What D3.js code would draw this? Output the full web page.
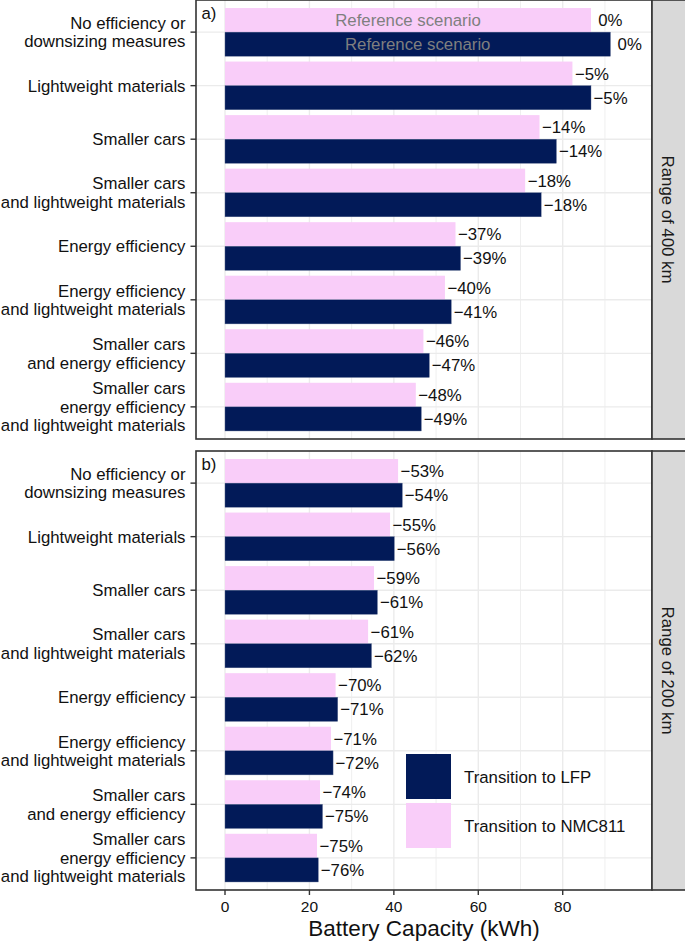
<!DOCTYPE html>
<html>
<head>
<meta charset="utf-8">
<script src="https://cdn.jsdelivr.net/npm/d3@7"></script>
<style>
  html, body { margin: 0; padding: 0; background: #fff; }
  svg { display: block; }
  text { font-family: "Liberation Sans", Arial, Helvetica, sans-serif; }
</style>
</head>
<body>
<svg id="chart" width="685" height="942"></svg>
<script>
// ---------------- data ----------------
const categories = [
  "No efficiency or\ndownsizing measures",
  "Lightweight materials",
  "Smaller cars",
  "Smaller cars\nand lightweight materials",
  "Energy efficiency",
  "Energy efficiency\nand lightweight materials",
  "Smaller cars\nand energy efficiency",
  "Smaller cars\nenergy efficiency\nand lightweight materials"
];
const seriesNames = ["Transition to LFP", "Transition to NMC811"];
const facets = ["Range of 400 km", "Range of 200 km"];
const facetTags = ["a)", "b)"];

// Battery capacity (kWh)
const lfp400 = [91.3, 86.7, 78.5, 74.9, 55.8, 53.6, 48.4, 46.5];
const nmc400 = [86.7, 82.3, 74.5, 71.1, 54.6, 52.1, 47.0, 45.2];
const lfp200 = [42.0, 40.1, 36.1, 34.7, 26.7, 25.6, 23.1, 22.1];
const nmc200 = [41.0, 39.1, 35.3, 33.9, 26.2, 25.1, 22.5, 21.8];

// percentage labels
const lfp400Pct = ["0%", "−5%", "−14%", "−18%", "−39%", "−41%", "−47%", "−49%"];
const nmc400Pct = ["0%", "−5%", "−14%", "−18%", "−37%", "−40%", "−46%", "−48%"];
const lfp200Pct = ["−54%", "−56%", "−61%", "−62%", "−71%", "−72%", "−75%", "−76%"];
const nmc200Pct = ["−53%", "−55%", "−59%", "−61%", "−70%", "−71%", "−74%", "−75%"];

const xTicks = [0, 20, 40, 60, 80];
const xMinorTicks = [10, 30, 50, 70, 90];
const xTitle = "Battery Capacity (kWh)";
const referenceLabel = "Reference scenario";

// ---------------- layout ----------------
const colors = { "Transition to LFP": "#021A58", "Transition to NMC811": "#F9CDF9" };
const panelLeft = 196, panelRight = 652;
const panels = [
  { top: 0, bottom: 439, lfp: lfp400, nmc: nmc400, lfpPct: lfp400Pct, nmcPct: nmc400Pct },
  { top: 451, bottom: 890, lfp: lfp200, nmc: nmc200, lfpPct: lfp200Pct, nmcPct: nmc200Pct }
];
const stripRight = 690;
const FS = 16.8;

const svg = d3.select("#chart");
const x = d3.scaleLinear().domain([-6.87, 101.15]).range([panelLeft, panelRight]);

panels.forEach((p, pi) => {
  const y = d3.scalePoint().domain(categories).range([p.top, p.bottom]).padding(0.6);
  const step = y.step();
  const barH = step * 0.45;
  const g = svg.append("g");

  g.append("rect").attr("x", panelLeft).attr("y", p.top)
    .attr("width", panelRight - panelLeft).attr("height", p.bottom - p.top)
    .attr("fill", "#fff");

  // grid
  g.selectAll(".vminor").data(xMinorTicks).join("line")
    .attr("x1", d => x(d)).attr("x2", d => x(d))
    .attr("y1", p.top).attr("y2", p.bottom)
    .attr("stroke", "#EBEBEB").attr("stroke-width", 0.8);
  g.selectAll(".vmajor").data(xTicks).join("line")
    .attr("x1", d => x(d)).attr("x2", d => x(d))
    .attr("y1", p.top).attr("y2", p.bottom)
    .attr("stroke", "#EBEBEB").attr("stroke-width", 1.4);
  g.selectAll(".hmajor").data(categories).join("line")
    .attr("x1", panelLeft).attr("x2", panelRight)
    .attr("y1", d => y(d)).attr("y2", d => y(d))
    .attr("stroke", "#EBEBEB").attr("stroke-width", 1.4);

  const rows = categories.map((c, i) => ({
    c, i, lfp: p.lfp[i], nmc: p.nmc[i], lfpPct: p.lfpPct[i], nmcPct: p.nmcPct[i]
  }));
  g.selectAll(".nmc").data(rows).join("rect")
    .attr("x", x(0)).attr("y", d => y(d.c) - barH)
    .attr("width", d => x(d.nmc) - x(0)).attr("height", barH)
    .attr("fill", colors["Transition to NMC811"]);
  g.selectAll(".lfp").data(rows).join("rect")
    .attr("x", x(0)).attr("y", d => y(d.c))
    .attr("width", d => x(d.lfp) - x(0)).attr("height", barH)
    .attr("fill", colors["Transition to LFP"])
    .attr("stroke", "#5a6a90").attr("stroke-width", 0.4);

  const lab = t => (t.startsWith("−") ? t : "\u00a0" + t);
  g.selectAll(".nmcLab").data(rows).join("text")
    .attr("x", d => x(d.nmc) + 2.5).attr("y", d => y(d.c) - barH / 2)
    .attr("dy", "0.36em").attr("font-size", FS).attr("fill", "#111")
    .text(d => lab(d.nmcPct));
  g.selectAll(".lfpLab").data(rows).join("text")
    .attr("x", d => x(d.lfp) + 2.5).attr("y", d => y(d.c) + barH / 2)
    .attr("dy", "0.36em").attr("font-size", FS).attr("fill", "#111")
    .text(d => lab(d.lfpPct));

  if (pi === 0) {
    const r = rows[0];
    g.append("text").attr("x", x(r.nmc / 2)).attr("y", y(r.c) - barH / 2)
      .attr("dy", "0.36em").attr("text-anchor", "middle").attr("font-size", FS)
      .attr("fill", "#7F7F7F").text(referenceLabel);
    g.append("text").attr("x", x(r.lfp / 2)).attr("y", y(r.c) + barH / 2)
      .attr("dy", "0.36em").attr("text-anchor", "middle").attr("font-size", FS)
      .attr("fill", "#7F7F7F").text(referenceLabel);
  }

  g.append("text").attr("x", panelLeft + 5.5).attr("y", p.top + 18.5)
    .attr("font-size", FS).attr("fill", "#111").text(facetTags[pi]);

  g.append("rect").attr("x", panelLeft).attr("y", p.top)
    .attr("width", panelRight - panelLeft).attr("height", p.bottom - p.top)
    .attr("fill", "none").attr("stroke", "#333").attr("stroke-width", 1.6);

  g.append("rect").attr("x", panelRight).attr("y", p.top)
    .attr("width", stripRight - panelRight).attr("height", p.bottom - p.top)
    .attr("fill", "#D9D9D9").attr("stroke", "#333").attr("stroke-width", 1.6);
  const sy = (p.top + p.bottom) / 2;
  g.append("text").attr("transform", `translate(668,${sy}) rotate(90)`)
    .attr("text-anchor", "middle").attr("dy", "0.36em")
    .attr("font-size", FS).attr("fill", "#1A1A1A").text(facets[pi]);

  g.selectAll(".ytick").data(categories).join("line")
    .attr("x1", panelLeft - 5.5).attr("x2", panelLeft)
    .attr("y1", d => y(d)).attr("y2", d => y(d))
    .attr("stroke", "#333").attr("stroke-width", 1.4);
  const lh = 18.5;
  categories.forEach(c => {
    const lines = c.split("\n");
    const t = g.append("text").attr("text-anchor", "end").attr("font-size", FS).attr("fill", "#111");
    lines.forEach((ln, li) => {
      t.append("tspan").attr("x", panelLeft - 10.5)
        .attr("y", y(c) + (li - (lines.length - 1) / 2) * lh + 6)
        .text(ln);
    });
  });

  if (pi === 1) {
    g.selectAll(".xtick").data(xTicks).join("line")
      .attr("x1", d => x(d)).attr("x2", d => x(d))
      .attr("y1", p.bottom).attr("y2", p.bottom + 5)
      .attr("stroke", "#333").attr("stroke-width", 1.4);
    g.selectAll(".xlab").data(xTicks).join("text")
      .attr("x", d => x(d)).attr("y", p.bottom + 21.7)
      .attr("text-anchor", "middle").attr("font-size", 15.5).attr("fill", "#111")
      .text(d => d);

    const lg = g.append("g");
    seriesNames.forEach((s, si) => {
      const ky = 754 + si * 49;
      lg.append("rect").attr("x", 406).attr("y", ky).attr("width", 45).attr("height", 45)
        .attr("fill", colors[s]);
      lg.append("text").attr("x", 464).attr("y", ky + 22.5).attr("dy", "0.36em")
        .attr("font-size", FS).attr("fill", "#111").text(s);
    });
  }
});

svg.append("text").attr("x", (panelLeft + panelRight) / 2).attr("y", 935.5)
  .attr("text-anchor", "middle").attr("font-size", 22.5).attr("fill", "#111")
  .text(xTitle);
</script>
</body>
</html>
